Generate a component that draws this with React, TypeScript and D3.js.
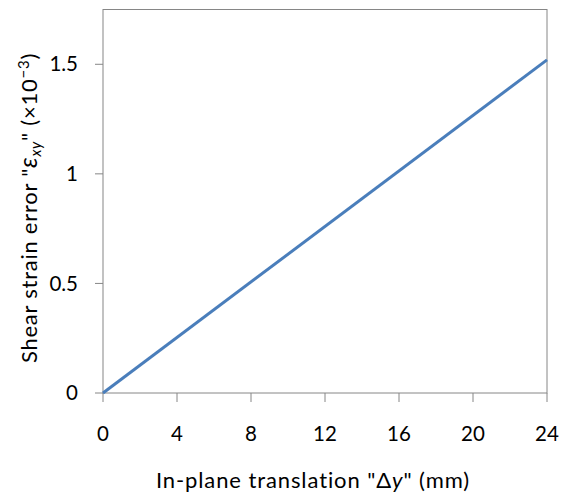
import React from "react";
import * as d3 from "d3";

// Shear strain error as a function of in-plane translation
const translationMm = [0, 24];
const strainError = [0, 1.52];
const xTicks = [0, 4, 8, 12, 16, 20, 24];
const yTicks = [0, 0.5, 1, 1.5];

const W = 564;
const H = 498;
const margin = { left: 103, right: 17, top: 9.5, bottom: 105 };
const FONT = "Lato, 'Open Sans', sans-serif";
const AXIS = "#868686";
const FS = 20.5;
const TITLE_FS = 22;

export default function App() {
  const x = d3
    .scaleLinear()
    .domain([0, 24])
    .range([margin.left, W - margin.right]);
  const y = d3
    .scaleLinear()
    .domain([0, 1.75])
    .range([H - margin.bottom, margin.top]);

  const points = translationMm.map((t, i) => [t, strainError[i]] as [number, number]);
  const line = d3
    .line<[number, number]>()
    .x((d) => x(d[0]))
    .y((d) => y(d[1]));

  const x0 = x(0);
  const x1 = x(24);
  const y0 = y(0);
  const y1 = y(1.75);

  return (
    <svg width={W} height={H} style={{ position: "absolute", left: 0, top: 0 }} fontFamily={FONT}>
      <rect width={W} height={H} fill="#fff" />
      {/* plot frame */}
      <rect x={x0} y={y1} width={x1 - x0} height={y0 - y1} fill="none" stroke={AXIS} strokeWidth={1} />
      {/* x ticks */}
      {xTicks.map((t) => (
        <g key={"x" + t}>
          <line x1={x(t)} x2={x(t)} y1={y0} y2={y0 + 9} stroke={AXIS} />
          <text x={x(t)} y={441} textAnchor="middle" fontSize={FS} fill="#000">
            {t}
          </text>
        </g>
      ))}
      {/* y ticks */}
      {yTicks.map((t) => (
        <g key={"y" + t}>
          <line x1={x0 - 8} x2={x0} y1={y(t)} y2={y(t)} stroke={AXIS} />
          <text x={78} y={y(t)} dy="0.35em" textAnchor="end" fontSize={FS} fill="#000">
            {t}
          </text>
        </g>
      ))}
      {/* data line */}
      <path d={line(points) || ""} fill="none" stroke="#4A7EBB" strokeWidth={3} />
      {/* x axis title */}
      <text x={313} y={488} textAnchor="middle" fontSize={TITLE_FS} letterSpacing={0.9} fill="#000">
        In-plane translation "Δ<tspan fontStyle="italic">y</tspan>" (mm)
      </text>
      {/* y axis title */}
      <text
        transform="translate(37,208) rotate(-90)"
        textAnchor="middle"
        fontSize={TITLE_FS}
        letterSpacing={0.75}
        fill="#000"
      >
        Shear strain error "
        <tspan fontStyle="italic" fontSize={25}>ε</tspan>
        <tspan fontStyle="italic" fontSize={15} dy={4}>xy</tspan>
        <tspan dy={-4}>" (×10</tspan>
        <tspan fontSize={15} dy={-8}>−3</tspan>
        <tspan dy={8}>)</tspan>
      </text>
    </svg>
  );
}
